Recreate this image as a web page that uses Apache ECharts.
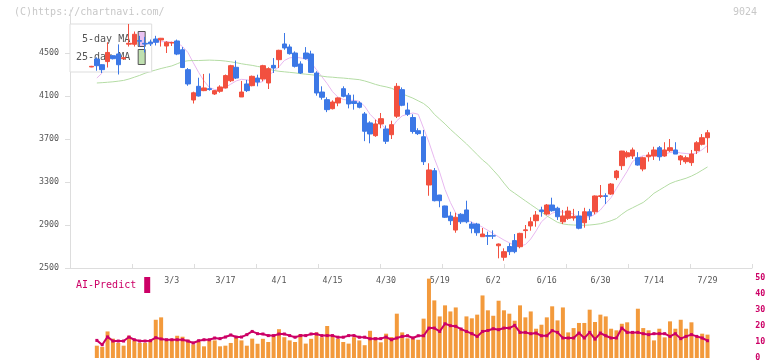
<!DOCTYPE html>
<html>
<head>
<meta charset="utf-8">
<script src="https://cdn.jsdelivr.net/npm/echarts@6/dist/echarts.min.js"></script>
<style>
html, body { margin: 0; padding: 0; background: #fff; }
#chart { width: 772px; height: 361px; }
</style>
</head>
<body>
<div id="chart"></div>
<script>
const dates = ['2/6','2/7','2/10','2/12','2/13','2/14','2/17','2/18','2/19','2/20','2/21','2/25','2/26','2/27','2/28',
  '3/3','3/4','3/5','3/6','3/7','3/10','3/11','3/12','3/13','3/14','3/17','3/18','3/19','3/21','3/24','3/25','3/26','3/27','3/28','3/31',
  '4/1','4/2','4/3','4/4','4/7','4/8','4/9','4/10','4/11','4/14','4/15','4/16','4/17','4/18','4/21','4/22','4/23','4/24','4/25','4/28','4/30',
  '5/1','5/7','5/8','5/9','5/12','5/13','5/14','5/15','5/16','5/19','5/20','5/21','5/22','5/23','5/26','5/27','5/28','5/29','5/30',
  '6/2','6/3','6/4','6/5','6/6','6/9','6/10','6/11','6/12','6/13','6/16','6/17','6/18','6/19','6/20','6/23','6/24','6/25','6/26','6/27','6/30',
  '7/1','7/2','7/3','7/4','7/7','7/8','7/9','7/10','7/11','7/14','7/15','7/16','7/17','7/18','7/22','7/23','7/24','7/25','7/28','7/29'];
const tickLabels = ['3/3','3/17','4/1','4/15','4/30','5/19','6/2','6/16','6/30','7/14','7/29'];

const opens = [4370,4444,4391,4420,4475,4491,4447,4582,4581,4615,4590,4602,4630,4621,4565,4593,4612,4530,4345,4063,
  4190,4150,4168,4119,4144,4175,4242,4367,4091,4212,4196,4267,4258,4221,4385,4438,4584,4556,4500,4398,
  4500,4491,4314,4137,4066,3982,4035,4168,4107,4050,4035,3933,3850,3731,3840,3793,3740,3912,4159,3970,
  3900,3777,3721,3272,3405,3179,3077,2984,2853,3000,3040,2909,2909,2791,2802,2800,2707,2600,2700,2755,
  2698,2848,2891,2940,3040,3002,3086,3056,2930,2962,2965,2984,2921,3023,3023,3165,3172,3188,3340,3452,
  3535,3542,3526,3421,3535,3542,3619,3542,3591,3598,3505,3489,3480,3591,3651,3712];
const closes = [4376,4382,4345,4505,4447,4391,4456,4590,4674,4610,4583,4585,4600,4637,4600,4598,4490,4365,4212,4130,
  4100,4175,4160,4150,4184,4290,4382,4267,4137,4150,4283,4230,4382,4354,4360,4525,4547,4494,4376,4314,
  4447,4320,4128,4088,3973,4044,4082,4097,4026,4030,3995,3772,3747,3840,3889,3679,3833,4190,4014,3930,
  3770,3750,3489,3412,3126,3126,2972,2940,2972,2930,2930,2870,2828,2816,2795,2797,2723,2652,2652,2652,
  2822,2855,2930,2993,3024,3086,3033,2977,2984,3030,2980,2870,3023,2986,3170,3172,3166,3281,3402,3588,
  3572,3598,3458,3526,3551,3598,3535,3598,3619,3560,3542,3526,3560,3665,3712,3758];
const lows = [4368,4335,4314,4365,4440,4300,4440,4560,4560,4560,4505,4565,4570,4560,4500,4565,4480,4360,4195,4030,
  4095,4145,4150,4110,4130,4170,4230,4258,4091,4137,4190,4190,4237,4165,4314,4360,4530,4485,4365,4305,
  4438,4314,4103,4066,3950,3975,4005,4088,3985,3973,3985,3680,3660,3720,3800,3654,3700,3895,4005,3914,
  3750,3737,3458,3172,3120,3065,2965,2900,2828,2910,2916,2823,2800,2791,2714,2770,2590,2568,2620,2637,
  2683,2776,2847,2884,2977,2990,3024,2947,2909,2947,2940,2860,2875,2947,3000,3150,3095,3180,3318,3412,
  3520,3514,3452,3400,3490,3505,3498,3535,3580,3560,3458,3470,3450,3560,3640,3572];
const highs = [4380,4460,4395,4600,4480,4580,4465,4770,4700,4660,4650,4625,4660,4640,4610,4605,4625,4555,4360,4140,
  4270,4305,4310,4155,4200,4300,4390,4430,4240,4250,4290,4298,4390,4367,4453,4530,4686,4580,4515,4423,
  4555,4521,4330,4190,4088,4060,4088,4190,4128,4113,4050,3951,3865,3880,3942,3826,3870,4220,4180,4038,
  3930,3800,3784,3474,3430,3180,3080,3023,3014,3010,3126,2930,2920,2872,2838,2850,2728,2683,2730,2816,
  2828,2900,2972,3030,3070,3095,3154,3070,3040,3070,3050,3030,3060,3050,3175,3272,3195,3290,3412,3590,
  3590,3620,3577,3535,3577,3628,3635,3670,3700,3670,3551,3545,3598,3680,3746,3784];

const ma5 = ['-',4267,4314,4370,4410,4430,4440,4460,4500,4540,4580,4595,4600,4605,4606,4600,4596,4560,4505,4410,
  4320,4240,4180,4160,4158,4180,4210,4240,4255,4250,4240,4220,4235,4285,4330,4372,4430,4455,4460,4455,
  4445,4410,4345,4280,4215,4140,4090,4068,4060,4060,4050,4005,3930,3880,3840,3790,3800,3870,3915,3930,
  3942,3930,3800,3670,3520,3390,3230,3110,3010,2965,2948,2925,2905,2880,2850,2820,2790,2760,2735,2708,
  2705,2718,2770,2845,2930,2975,3010,3025,3020,3020,3000,2965,2975,2975,3000,3040,3100,3155,3240,3320,
  3400,3490,3525,3545,3540,3545,3535,3560,3575,3580,3570,3565,3560,3570,3600,3640];
const ma25 = ['-',4221,4224,4228,4232,4238,4245,4258,4275,4292,4312,4328,4342,4356,4368,4380,4400,4420,4428,4430,
  4430,4432,4434,4432,4430,4425,4418,4410,4400,4392,4385,4375,4367,4352,4338,4330,4325,4320,4315,4308,
  4303,4298,4292,4285,4278,4275,4270,4267,4262,4257,4252,4240,4225,4208,4195,4185,4172,4150,4120,4100,
  4080,4055,4030,3990,3930,3885,3840,3790,3745,3700,3655,3605,3555,3505,3465,3410,3355,3290,3230,3195,
  3160,3125,3090,3056,3020,2985,2955,2925,2910,2903,2900,2898,2898,2900,2905,2912,2925,2940,2960,3000,
  3035,3060,3085,3110,3150,3195,3225,3255,3285,3305,3320,3335,3355,3380,3410,3440];

const volume = ['-',7.7,6.9,16.6,12.1,9.4,7.7,13.9,11,9.4,9.4,11,23.9,25.4,11.4,11.4,13.9,13.3,11.4,8.5,
  10,7.3,11,11,7.3,7.7,9.4,12.9,11,7.7,12.1,8.9,12,10,14,18,13,11,10,15,
  9,12,16,13,20,14,12,10,9,13,11,8,17,13,9.8,15.2,13.1,27.7,16,12.3,
  12.3,11.4,24.6,49.6,36,26,32.9,29.1,31.6,17.7,26,24.8,27.1,39.1,29.8,26.4,35.8,29.8,27.7,23.3,
  32.9,25.4,29.1,18.3,20.8,25.4,32.3,23.5,31.6,16,18.7,21.9,21.9,30.2,22.5,27.1,26,18.3,17.3,21.4,
  22.3,16,30.8,18.7,17.3,11,18.3,12.9,22.9,18.3,23.9,18.3,22.3,12.9,15.2,14.6];
const aiPredict = ['-',11,8.3,13.2,10.6,10.6,10.6,13.1,11.4,10.6,10.6,10.8,12.7,11.9,11.4,11.4,11.4,11.4,10.6,9.4,
  10.8,11.4,11.4,12.5,12.1,13.1,14.4,13.1,13.1,14.6,16.6,15.2,15,14,14,15,15,14,13,14,
  14,15,15,14,14,14,13,13,14,14,13,13,12,12,12.1,13.1,11.4,12.5,13.5,13.9,
  12.5,13.9,13.9,18.7,18.7,16.6,21.4,20.2,19.8,18.1,16.6,15.2,13.5,16.6,17.2,18.3,17.7,18.7,18.7,20.4,
  16,16,15.2,15.6,13.9,13.9,17.1,16,12.5,12.5,12.5,15.6,12.5,16,11.8,15.6,13.9,12.5,12.5,18.7,
  16,16,16,15.2,14.6,15.2,15.2,15.2,13.5,15.2,12.1,13.5,14.6,13.5,12.5,10.8];

const FONT = 'DejaVu Sans Mono';
const candles = opens.map((o, i) => [o, closes[i], lows[i], highs[i]]);

const chart = echarts.init(document.getElementById('chart'));
const option = {
  animation: false,
  graphic: [
    { type: 'text', left: 14, top: 7, style: { text: '(C)https://chartnavi.com/', font: '10px ' + FONT, fill: '#c8c8c8' } },
    { type: 'text', right: 15, top: 7, style: { text: '9024', font: '10px ' + FONT, fill: '#c8c8c8' } }
  ],
  legend: [{
    data: [
      { name: '5-day MA', itemStyle: { color: '#eac2f2', borderColor: '#555', borderWidth: 1 } },
      { name: '25-day MA', itemStyle: { color: '#bfe0b0', borderColor: '#555', borderWidth: 1 } }
    ],
    orient: 'vertical', left: 70, top: 24, align: 'right', icon: 'rect',
    itemWidth: 7, itemHeight: 15, itemGap: 2, padding: [7, 6, 7, 6],
    backgroundColor: '#fff', borderColor: '#ddd', borderWidth: 1,
    selectedMode: false, z: 2.5,
    textStyle: { fontFamily: FONT, fontSize: 10, color: '#555', padding: [0, 3, 0, 0] }
  }, {
    data: [{ name: 'AI-Predict', itemStyle: { color: '#cc0066' } }],
    left: 70, top: 277, align: 'right', icon: 'rect',
    itemWidth: 6, itemHeight: 16, padding: [0, 0, 0, 6], selectedMode: false,
    textStyle: { fontFamily: FONT, fontSize: 10, color: '#cc0066', padding: [0, 3, 0, 0] }
  }],
  grid: [
    { left: 70, right: 20, top: 10, bottom: 93, outerBoundsMode: 'none' },
    { left: 88.8, right: 61.8, top: 10, bottom: 93, outerBoundsMode: 'none' },
    { left: 88.8, right: 61.8, top: 278, bottom: 3, outerBoundsMode: 'none' }
  ],
  xAxis: [
    { gridIndex: 0, type: 'value', min: 0, max: 11, interval: 1,
      axisLine: { lineStyle: { color: '#ddd' } },
      axisTick: { inside: true, length: 4, lineStyle: { color: '#ddd' } },
      axisLabel: { show: false }, splitLine: { show: false } },
    { gridIndex: 1, type: 'category', data: dates, boundaryGap: true,
      axisLine: { show: false }, axisTick: { show: false },
      axisLabel: { interval: (i, v) => tickLabels.includes(v), margin: 9,
        fontFamily: FONT, fontSize: 8.3, color: '#555' } },
    { gridIndex: 2, type: 'category', data: dates, boundaryGap: true, show: false }
  ],
  yAxis: [
    { gridIndex: 0, type: 'value', min: 2500, max: 4900, interval: 400,
      axisLine: { show: true, lineStyle: { color: '#ddd' } },
      axisTick: { show: true, length: 5, lineStyle: { color: '#ddd' } },
      axisLabel: { showMaxLabel: false, margin: 11, fontFamily: FONT, fontSize: 8.3, color: '#555',
        formatter: v => String(v) },
      splitLine: { show: false } },
    { gridIndex: 1, type: 'value', min: 2500, max: 4900, show: false },
    { gridIndex: 2, type: 'value', min: 0, max: 50, interval: 10, position: 'right', offset: 42,
      axisLine: { show: false }, axisTick: { show: false }, splitLine: { show: false },
      axisLabel: { margin: 3, fontFamily: FONT, fontSize: 8.3, fontWeight: 'bold', color: '#cc0066' } }
  ],
  series: [
    { name: '5-day MA', type: 'line', xAxisIndex: 1, yAxisIndex: 1, data: ma5,
      symbol: 'none', color: '#e8b8f0', lineStyle: { width: 1, color: '#e8b8f0' }, z: 2 },
    { name: '25-day MA', type: 'line', xAxisIndex: 1, yAxisIndex: 1, data: ma25,
      symbol: 'none', color: '#b4dca4', lineStyle: { width: 1, color: '#b4dca4' }, z: 2 },
    { type: 'candlestick', xAxisIndex: 1, yAxisIndex: 1, data: candles, barWidth: 5, z: 3,
      itemStyle: { color: '#f2503f', color0: '#3c78e6', borderColor: '#f2503f', borderColor0: '#3c78e6', borderWidth: 1 } },
    { type: 'bar', xAxisIndex: 2, yAxisIndex: 2, data: volume, barWidth: 4, itemStyle: { color: '#f39a3c' } },
    { name: 'AI-Predict', type: 'line', xAxisIndex: 2, yAxisIndex: 2, data: aiPredict, z: 4,
      color: '#cc0066', lineStyle: { width: 2, color: '#cc0066' },
      symbol: 'rect', symbolSize: 3, itemStyle: { color: '#cc0066' } }
  ]
};
chart.setOption(option);
</script>
</body>
</html>
